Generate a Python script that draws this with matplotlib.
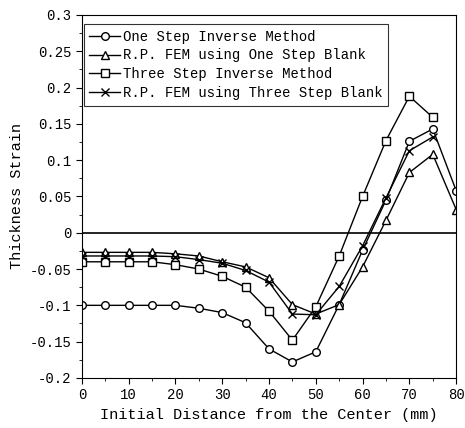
import matplotlib
matplotlib.use("Agg")
import matplotlib.pyplot as plt
from matplotlib.ticker import MultipleLocator

plt.rcParams['font.family'] = ['Liberation Mono', 'DejaVu Sans Mono']

# distance from the center (mm)
x_full = [0, 5, 10, 15, 20, 25, 30, 35, 40, 45, 50, 55, 60, 65, 70, 75, 80]
x_short = x_full[:16]

one_step_inverse = [-0.1, -0.1, -0.1, -0.1, -0.1, -0.104, -0.11, -0.124, -0.16,
                    -0.178, -0.164, -0.099, -0.024, 0.045, 0.126, 0.143, 0.058]
rp_fem_one_step = [-0.027, -0.027, -0.027, -0.027, -0.029, -0.032, -0.04, -0.047,
                   -0.062, -0.099, -0.112, -0.099, -0.047, 0.017, 0.083, 0.108, 0.032]
three_step_inverse = [-0.04, -0.04, -0.04, -0.04, -0.044, -0.05, -0.06, -0.075,
                      -0.108, -0.148, -0.102, -0.032, 0.05, 0.127, 0.188, 0.159]
rp_fem_three_step = [-0.032, -0.032, -0.032, -0.032, -0.033, -0.037, -0.042, -0.052,
                     -0.068, -0.112, -0.113, -0.074, -0.018, 0.048, 0.113, 0.132]

labels = ["One Step Inverse Method", "R.P. FEM using One Step Blank",
          "Three Step Inverse Method", "R.P. FEM using Three Step Blank"]

y_ticks = [0.3, 0.25, 0.2, 0.15, 0.1, 0.05, 0, -0.05, -0.1, -0.15, -0.2]
y_ticklabels = ["0.3", "0.25", "0.2", "0.15", "0.1", "0.05", "0",
                "-0.05", "-0.1", "-0.15", "-0.2"]
x_ticks = [0, 10, 20, 30, 40, 50, 60, 70, 80]

fig = plt.figure(figsize=(4.65, 4.28), dpi=100)
ax = fig.add_axes([0.176, 0.117, 0.805, 0.848])

style = dict(color='black', lw=1.0, mfc='white', mec='black', ms=5.5, mew=1.0)
ax.plot(x_full, one_step_inverse, marker='o', label=labels[0], **style)
ax.plot(x_full, rp_fem_one_step, marker='^', label=labels[1], **style)
ax.plot(x_short, three_step_inverse, marker='s', label=labels[2], **style)
ax.plot(x_short, rp_fem_three_step, marker='x', label=labels[3], **style)

ax.axhline(0, color='black', lw=1.2)

ax.set_xlim(0, 80)
ax.set_ylim(-0.2, 0.3)
ax.set_xticks(x_ticks)
ax.set_yticks(y_ticks)
ax.set_yticklabels(y_ticklabels)
ax.xaxis.set_minor_locator(MultipleLocator(5))
ax.yaxis.set_minor_locator(MultipleLocator(0.025))
ax.tick_params(which='both', direction='out', labelsize=10)
ax.tick_params(which='major', length=4)
ax.tick_params(which='minor', length=2)

ax.set_xlabel("Initial Distance from the Center (mm)", fontsize=11)
ax.set_ylabel("Thickness Strain", fontsize=11)

leg = ax.legend(loc='upper left', bbox_to_anchor=(0.005, 0.975), fontsize=10,
                frameon=True, fancybox=False, edgecolor='black',
                handlelength=2.2, borderpad=0.4, labelspacing=0.35,
                handletextpad=0.2, borderaxespad=0)
leg.get_frame().set_linewidth(0.8)

fig.savefig("out.png", dpi=100)
